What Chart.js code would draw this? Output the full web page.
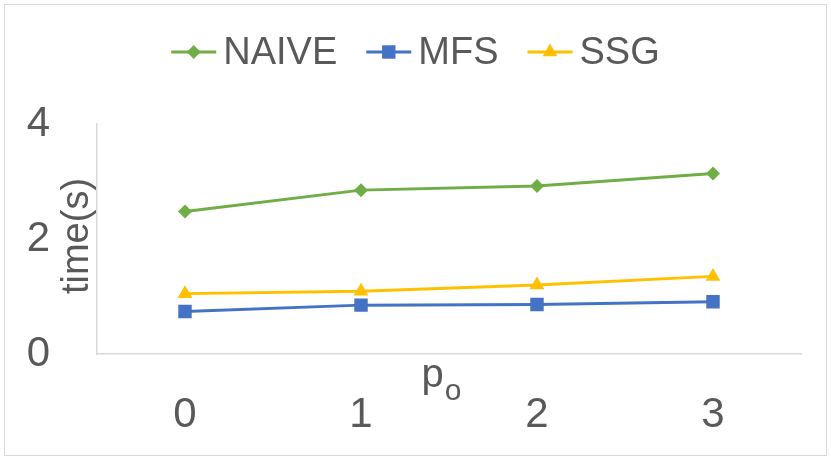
<!DOCTYPE html>
<html>
<head>
<meta charset="utf-8">
<script src="https://cdn.jsdelivr.net/npm/chart.js@4/dist/chart.umd.min.js"></script>
<style>
  html, body { margin: 0; padding: 0; background: #fff; }
  #wrap { width: 831px; height: 460px; }
</style>
</head>
<body>
<div id="wrap"><canvas id="timeChart"></canvas></div>
<script>
// Data
var categories = ['0', '1', '2', '3'];
var naiveTimes = [2.48, 2.85, 2.92, 3.14];
var mfsTimes = [0.74, 0.85, 0.86, 0.91];
var ssgTimes = [1.05, 1.09, 1.20, 1.35];
var yTicks = [0, 2, 4];

var FONT = "'Liberation Sans', Arial, sans-serif";
var TEXT = '#595959';
var AXIS = '#d9d9d9';

// Legend, border and axis titles drawn the Excel way
var excelDecor = {
    id: 'excelDecor',
    afterDraw: function(chart) {
        var ctx = chart.ctx;
        ctx.save();

        // outer border
        ctx.strokeStyle = AXIS;
        ctx.lineWidth = 1;
        ctx.strokeRect(4.5, 4.5, 822, 451);

        // legend: line with marker, then label
        ctx.font = '38px ' + FONT;
        ctx.textBaseline = 'middle';
        var iconW = 45, gapText = 7, gapItem = 29, legendY = 52;
        var items = chart.data.datasets;
        var total = 0;
        items.forEach(function(ds, i) {
            total += iconW + gapText + ctx.measureText(ds.label).width;
            if (i < items.length - 1) total += gapItem;
        });
        var x = (chart.width - total) / 2;
        items.forEach(function(ds) {
            ctx.strokeStyle = ds.borderColor;
            ctx.lineWidth = 3;
            ctx.beginPath();
            ctx.moveTo(x, legendY);
            ctx.lineTo(x + iconW, legendY);
            ctx.stroke();
            ctx.fillStyle = ds.pointBackgroundColor;
            ctx.strokeStyle = ds.pointBackgroundColor;
            Chart.helpers.drawPoint(ctx, {
                pointStyle: ds.pointStyle,
                radius: ds.pointRadius,
                rotation: 0,
                borderWidth: 0
            }, x + iconW / 2, legendY);
            ctx.fillStyle = TEXT;
            ctx.textAlign = 'left';
            ctx.fillText(ds.label, x + iconW + gapText, legendY + 2);
            x += iconW + gapText + ctx.measureText(ds.label).width + gapItem;
        });

        // y axis title, sits between tick labels and the axis
        ctx.fillStyle = TEXT;
        ctx.save();
        ctx.translate(78, 236);
        ctx.rotate(-Math.PI / 2);
        ctx.font = '38px ' + FONT;
        ctx.textAlign = 'center';
        ctx.textBaseline = 'middle';
        ctx.fillText('time(s)', 0, 0);
        ctx.restore();

        // x axis title p with subscript o
        ctx.font = '40px ' + FONT;
        var pW = ctx.measureText('p').width;
        ctx.font = '30px ' + FONT;
        var oW = ctx.measureText('o').width;
        var startX = 441 - (pW + oW) / 2;
        ctx.textAlign = 'left';
        ctx.textBaseline = 'alphabetic';
        ctx.font = '40px ' + FONT;
        ctx.fillText('p', startX, 387);
        ctx.font = '30px ' + FONT;
        ctx.fillText('o', startX + pW + 1, 400);

        ctx.restore();
    }
};

function series(label, values, color, style, radius) {
    return {
        label: label,
        data: values,
        borderColor: color,
        backgroundColor: color,
        pointBackgroundColor: color,
        pointBorderColor: color,
        pointBorderWidth: 0,
        pointStyle: style,
        pointRadius: radius,
        pointHoverRadius: radius,
        borderWidth: 3,
        tension: 0,
        fill: false
    };
}

var ctx = document.getElementById('timeChart');

var timeChart = new Chart(ctx, {
    type: 'line',
    data: {
        labels: categories,
        datasets: [
            series('NAIVE', naiveTimes, '#70ad47', 'rectRot', 7),
            series('MFS', mfsTimes, '#4472c4', 'rect', 9.5),
            series('SSG', ssgTimes, '#ffc000', 'triangle', 8.5)
        ]
    },
    options: {
        responsive: true,
        maintainAspectRatio: false,
        animation: false,
        devicePixelRatio: 1,
        layout: { padding: { top: 124, right: 30, left: 0, bottom: 0 } },
        plugins: {
            legend: { display: false },
            tooltip: { enabled: false }
        },
        scales: {
            x: {
                offset: true,
                grid: { display: false, drawTicks: false },
                border: { display: true, color: AXIS, width: 1.5 },
                ticks: {
                    color: TEXT,
                    font: { family: FONT, size: 42 },
                    padding: 36,
                    maxRotation: 0
                },
                afterFit: function(scale) { scale.height = 106; }
            },
            y: {
                min: 0,
                max: 4,
                grid: { display: false, drawTicks: false },
                border: { display: true, color: AXIS, width: 1.5 },
                afterBuildTicks: function(scale) {
                    scale.ticks = yTicks.map(function(v) { return { value: v }; });
                },
                ticks: {
                    color: TEXT,
                    font: { family: FONT, size: 42 },
                    padding: 47
                },
                afterFit: function(scale) { scale.width = 97; }
            }
        }
    },
    plugins: [excelDecor]
});
</script>
</body>
</html>
